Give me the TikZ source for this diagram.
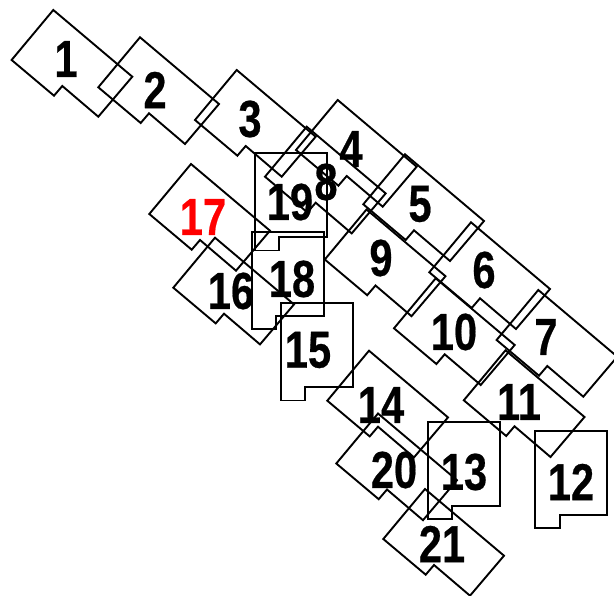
\documentclass[tikz,border=0pt]{standalone}
\usepackage{fontspec}
\setmainfont{Liberation Sans}
\newfontfamily\digfont[FakeBold=0.5]{Liberation Sans Bold}
\tikzset{
  lot/.style={draw=black,line width=1.9pt,line join=miter},
  lab/.style={inner sep=0pt,text=black,font=\fontsize{52}{52}\selectfont\digfont},
}
\newcommand{\lbl}[1]{\scalebox{0.8}[1]{#1}}
\newcommand{\dlot}[2]{\draw[lot] (#1,#2) -- ++(79,66.7) -- ++(-34,40) -- ++(-36,-30.7) -- ++(-8.3,9.7) -- ++(-42.4,-35.7) -- cycle;}
\newcommand{\rlot}[2]{\draw[lot] (#1,#2) -- ++(72,0) -- ++(0,84) -- ++(-47.7,0) -- ++(0,13.2) -- ++(-24.3,0) -- cycle;}
\begin{document}
\begin{tikzpicture}[x=1pt,y=-1pt]
\useasboundingbox (0,0) rectangle (614,596);
\clip (0,0) rectangle (614,596);
\dlot{53.3}{10}
\dlot{140}{37.3}
\dlot{236.7}{70}
\dlot{337.7}{100}
\dlot{405}{154.3}
\dlot{471}{222.3}
\dlot{538.3}{290}
\dlot{306.7}{126.7}
\dlot{366.5}{209.5}
\dlot{435.7}{278.3}
\dlot{505.5}{350.3}
\dlot{369}{350.7}
\dlot{378}{413.5}
\dlot{425}{489}
\dlot{215}{237.7}
\dlot{191}{164}
\rlot{535.3}{431}
\rlot{428}{421.7}
\rlot{280.7}{303.3}
\rlot{251.7}{232}
\rlot{255}{153.3}
\node[lab] (n1) at (66,59) {\lbl{1}};
\node[lab] (n2) at (155,90) {\lbl{2}};
\node[lab] (n3) at (250,119) {\lbl{3}};
\node[lab] (n4) at (351,149) {\lbl{4}};
\node[lab] (n5) at (420,204) {\lbl{5}};
\node[lab] (n6) at (484,270) {\lbl{6}};
\node[lab] (n7) at (546,337) {\lbl{7}};
\node[lab] (n8) at (326,182) {\lbl{8}};
\node[lab] (n9) at (381,258) {\lbl{9}};
\node[lab] (n10) at (454,332) {\lbl{10}};
\node[lab] (n11) at (519,402) {\lbl{11}};
\node[lab] (n12) at (571,482) {\lbl{12}};
\node[lab] (n13) at (464,472) {\lbl{13}};
\node[lab] (n14) at (381,405) {\lbl{14}};
\node[lab] (n15) at (308,350) {\lbl{15}};
\node[lab] (n16) at (231,291) {\lbl{16}};
\node[lab,text=red] (n17) at (203,217) {\lbl{17}};
\node[lab] (n18) at (292,279) {\lbl{18}};
\node[lab] (n19) at (290,202) {\lbl{19}};
\node[lab] (n20) at (394,470) {\lbl{20}};
\node[lab] (n21) at (442,544) {\lbl{21}};
\end{tikzpicture}
\end{document}
